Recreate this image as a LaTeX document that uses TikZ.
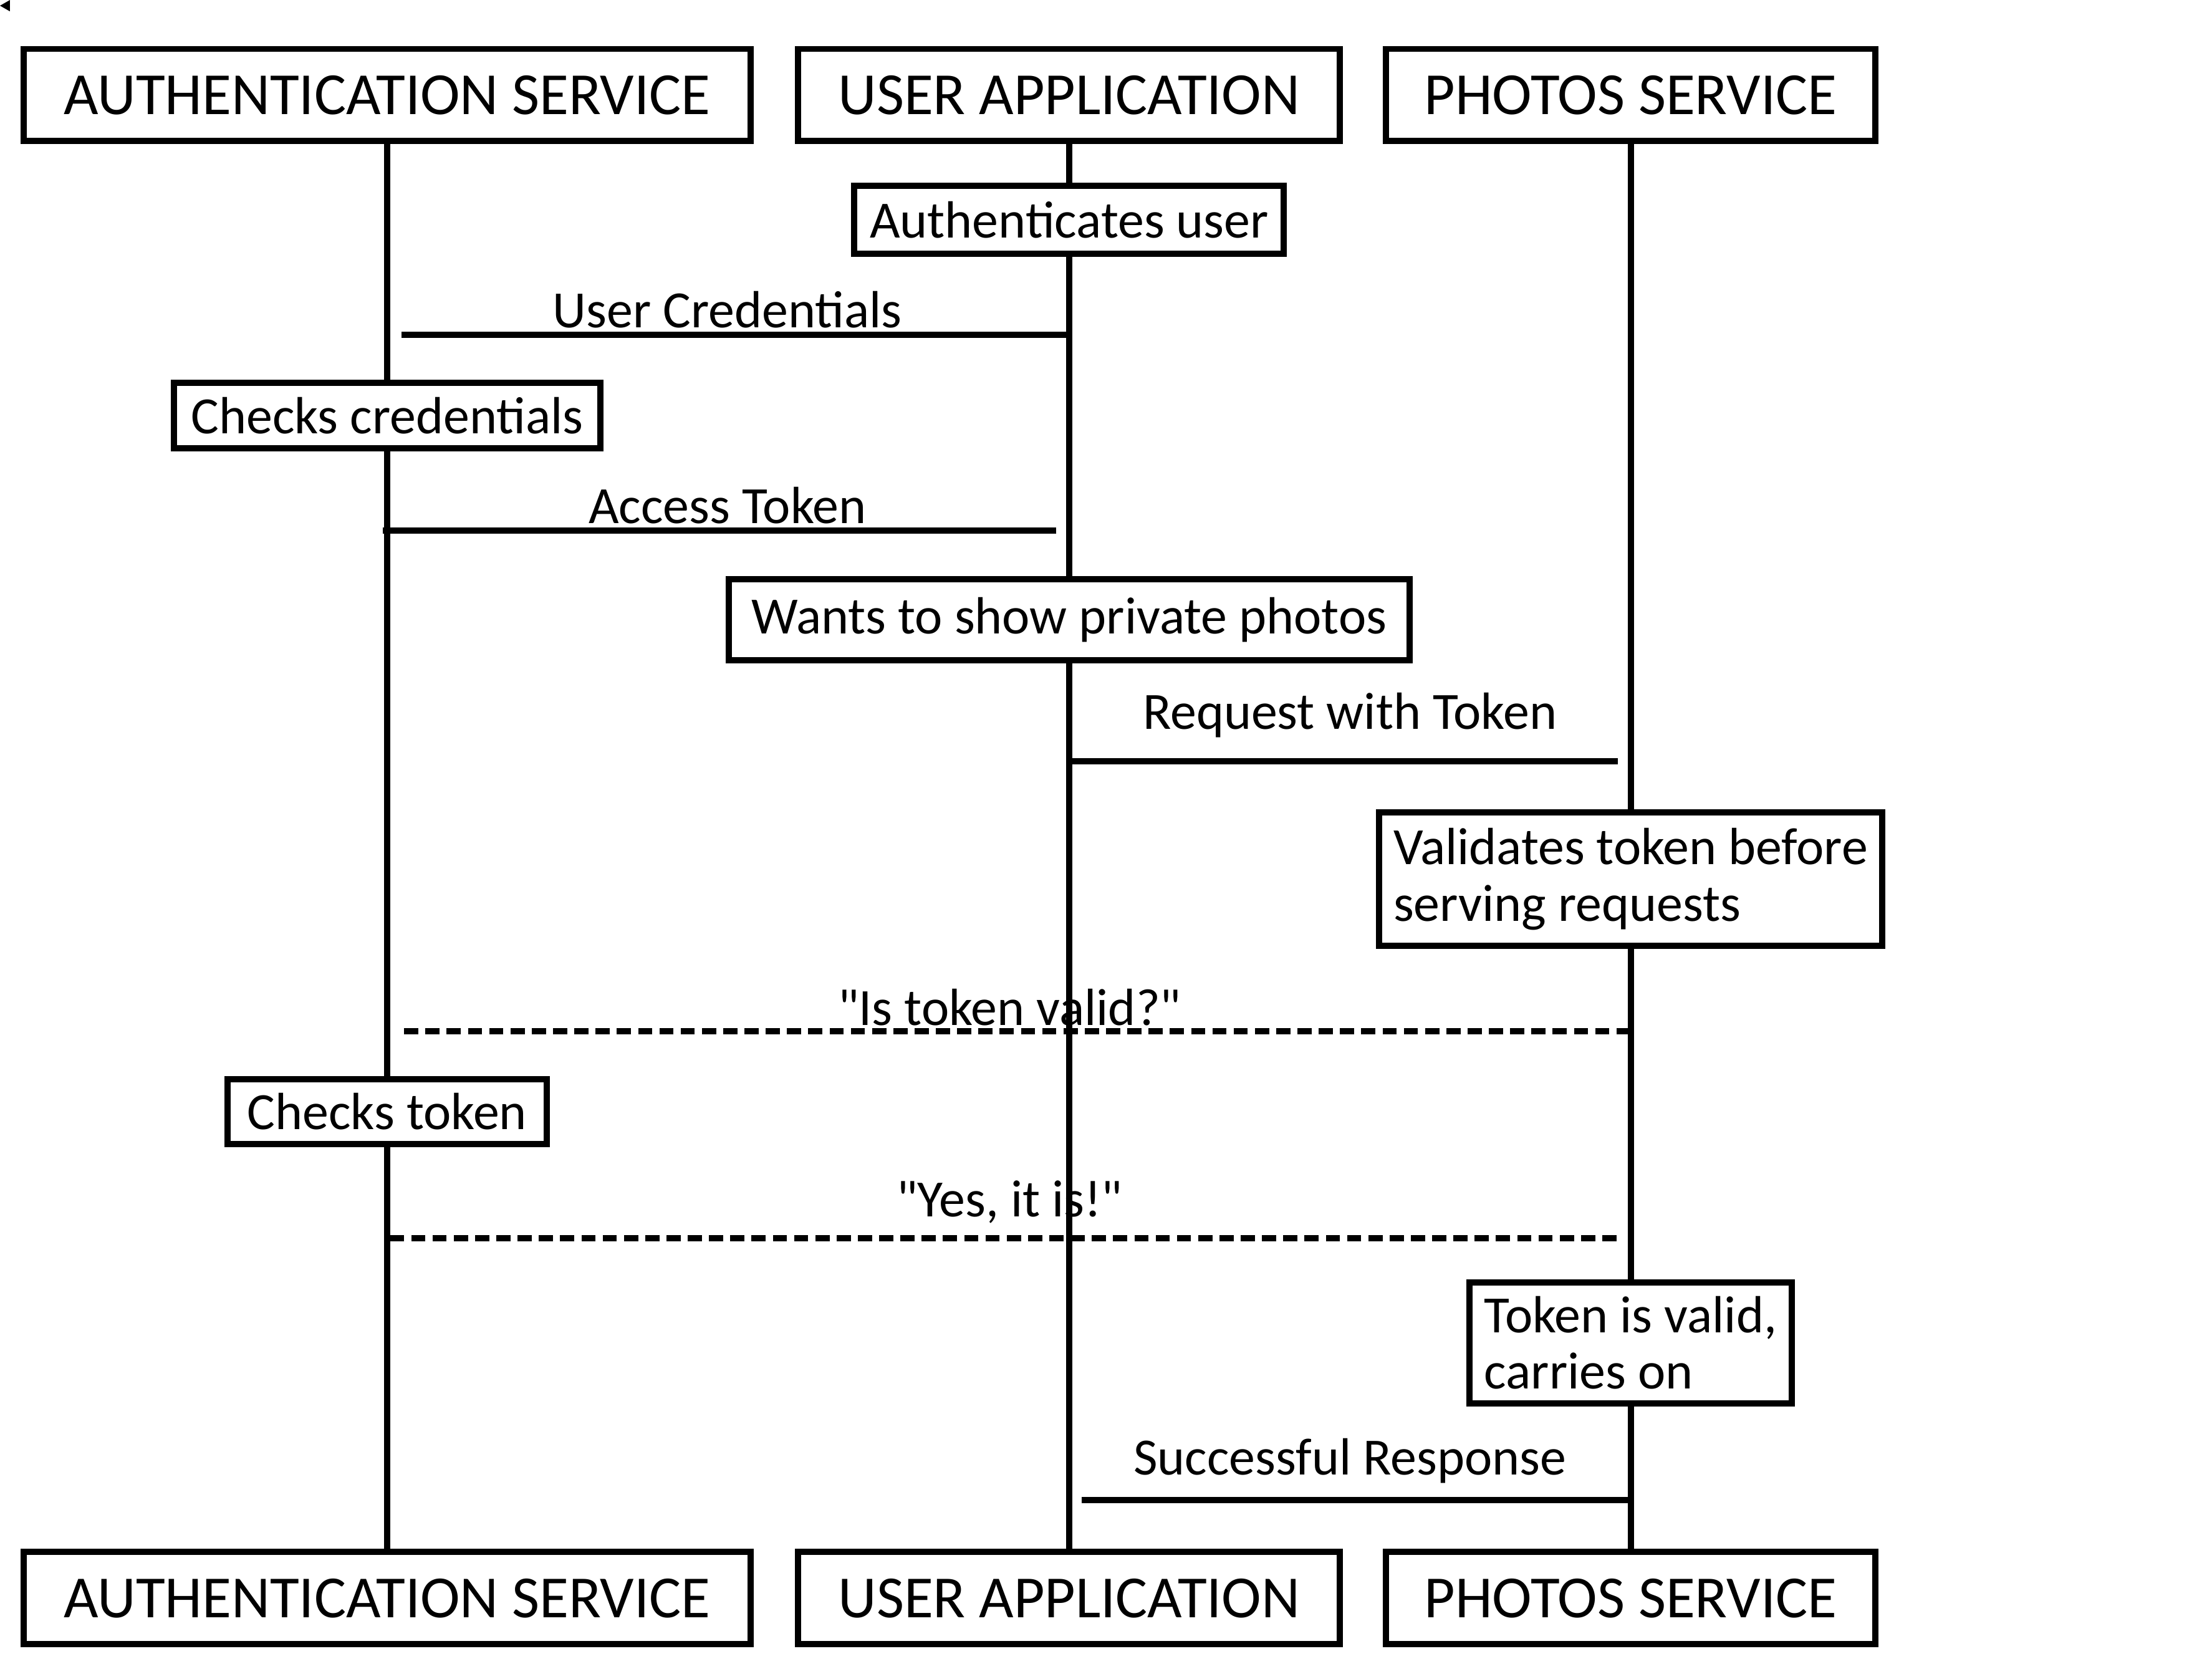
\documentclass[tikz,border=0pt]{standalone}
\usepackage{fontspec}
\setmainfont{Carlito}
\newfontfamily\qtfont{Carlito}
\newcommand{\qt}{{\qtfont\symbol{34}}}
\usepackage{tikz}
\usetikzlibrary{arrows,positioning}

\begin{document}
\begin{tikzpicture}[x=0.1mm,y=-0.1mm]
\tikzstyle{every node}=[font=\fontsize{10.5}{11.3}\selectfont]
\tikzstyle{actor}=[rectangle,draw,line width=1.25pt,fill=white,minimum height=6.5mm,font=\fontsize{12}{14}\selectfont]
\tikzstyle{note}=[rectangle,draw,line width=1.25pt,fill=white,align=left,inner sep=1mm]
\tikzstyle{msg}=[line width=1.25pt]
\tikzstyle{reply}=[msg,dash pattern=on 1mm off 0.5mm]
\tikzstyle{msgtext}=[anchor=base,inner sep=0pt]

\useasboundingbox (0,0) rectangle (1560,1184);
\fill (0,4) -- (7,0) -- (7,8) -- cycle;

\node[actor,minimum width=51.3mm] (authtop) at (273,67) {AUTHENTICATION SERVICE};
\node[actor,minimum width=38.2mm] (usertop) at (754,67) {USER APPLICATION};
\node[actor,minimum width=34.5mm] (phototop) at (1150,67) {PHOTOS SERVICE};
\node[actor,minimum width=51.3mm] (authbot) at (273,1127) {AUTHENTICATION SERVICE};
\node[actor,minimum width=38.2mm] (userbot) at (754,1127) {USER APPLICATION};
\node[actor,minimum width=34.5mm] (photobot) at (1150,1127) {PHOTOS SERVICE};

\draw[msg] (authtop) -- (authbot);
\draw[msg] (usertop) -- (userbot);
\draw[msg] (phototop) -- (photobot);

\node[note,minimum width=30.3mm,minimum height=4.8mm] (authuser) at (754,155) {Authenticates user};
\node[note,minimum width=30.1mm,minimum height=4.6mm] (checkcred) at (273,293) {Checks credentials};
\node[note,minimum width=48mm,minimum height=5.7mm] (showphotos) at (754,437) {Wants to show private photos};
\node[note,minimum width=35.5mm,minimum height=9.4mm] (validates) at (1150,620) {Validates token before\\serving requests};
\node[note,minimum width=22.5mm,minimum height=4.4mm] (checktoken) at (273,784) {Checks token};
\node[note,minimum width=22.7mm,minimum height=8.3mm] (carrieson) at (1150,947) {Token is valid,\\carries on};

\coordinate (authcred) at (283,236);
\coordinate (usercred) at (753,236);
\coordinate (authtoken) at (270,374);
\coordinate (usertoken) at (745,374);
\coordinate (userreq) at (755,537);
\coordinate (photoreq) at (1141,537);
\coordinate (authvalid) at (282,727);
\coordinate (photovalid) at (1150,727);
\coordinate (authyes) at (273,873);
\coordinate (photoyes) at (1140,873);
\coordinate (userresp) at (763,1058);
\coordinate (photoresp) at (1150,1058);

\draw[msg] (usercred) -- (authcred);
\draw[msg] (usertoken) -- (authtoken);
\draw[msg] (photoreq) -- (userreq);
\draw[reply] (photovalid) -- (authvalid);
\draw[reply] (photoyes) -- (authyes);
\draw[msg] (photoresp) -- (userresp);

\node[msgtext] (credtext) at (513,231) {User Credentials};
\node[msgtext] (tokentext) at (513,369) {Access Token};
\node[msgtext] (reqtext) at (952,514) {Request with Token};
\node[msgtext] (validtext) at (712,723) {\qt Is token valid?\qt};
\node[msgtext] (yestext) at (712,858) {\qt Yes, it is!\qt};
\node[msgtext] (resptext) at (952,1040) {Successful Response};
\end{tikzpicture}
\end{document}
